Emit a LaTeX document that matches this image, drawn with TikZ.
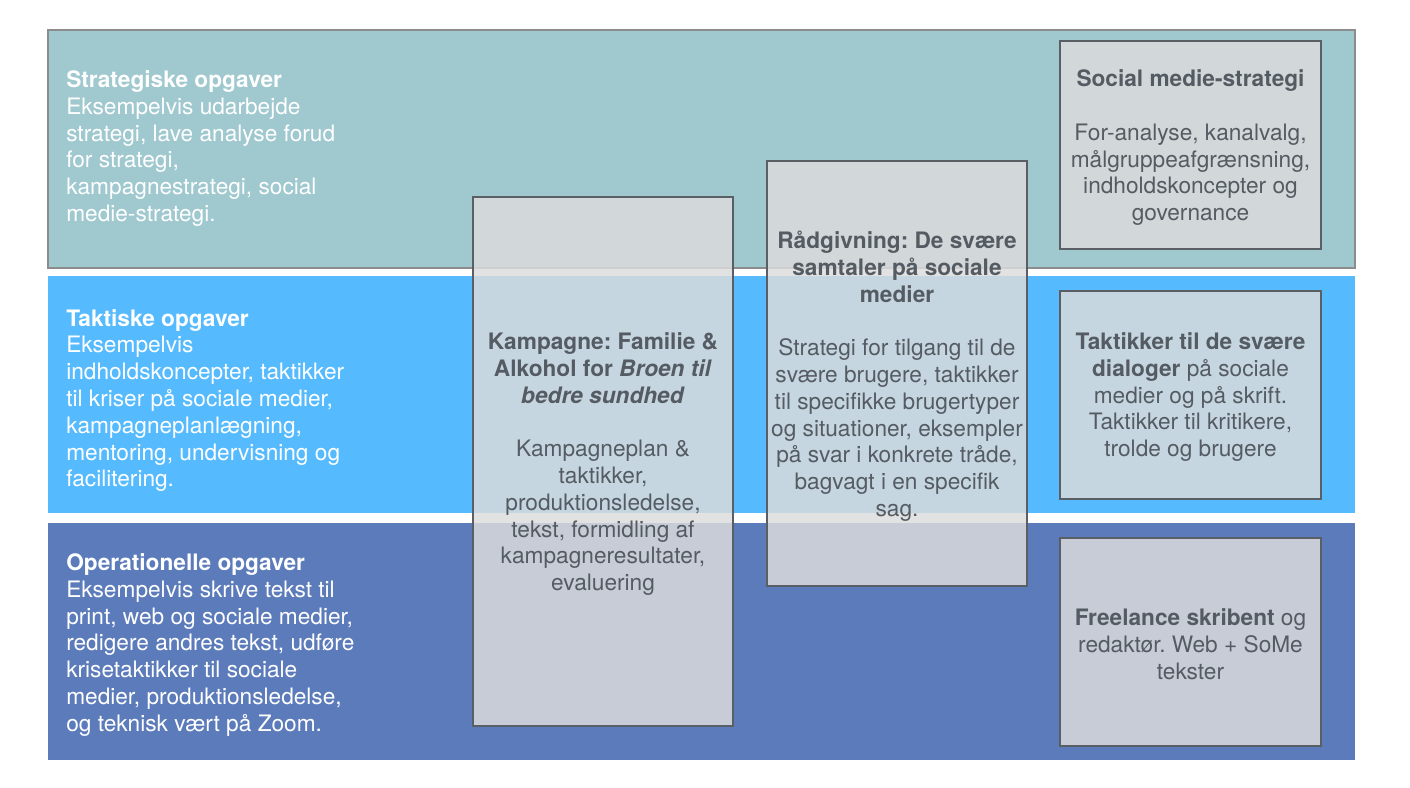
\documentclass[tikz,border=0pt]{standalone}
\usepackage{fontspec}
\setmainfont{TeX Gyre Heros}
\frenchspacing
\definecolor{stratfill}{HTML}{9FC8CF}
\definecolor{taktfill}{HTML}{56BBFE}
\definecolor{operfill}{HTML}{5C7BBA}
\definecolor{bandline}{HTML}{8C8C8C}
\definecolor{boxline}{HTML}{5A5F66}
\definecolor{boxtext}{HTML}{555B62}
\definecolor{boxfill}{HTML}{DCDCDC}
\begin{document}
\begin{tikzpicture}[x=0.75pt,y=-0.75pt,
  band/.style={rectangle, inner sep=0pt, minimum width=980.25pt},
  bandtext/.style={anchor=west, inner sep=0pt, align=left, text=white,
    font=\fontsize{17}{20.1}\selectfont},
  taskbox/.style={rectangle, draw=boxline, line width=1.5pt, fill=boxfill,
    fill opacity=0.84, text opacity=1, inner sep=0pt, minimum width=195pt},
  boxtxt/.style={inner sep=0pt, align=center, text=boxtext,
    font=\fontsize{17}{20.1}\selectfont}]
\useasboundingbox (0,0) rectangle (1410,788);
% bands
\node[band, fill=stratfill, draw=bandline, line width=1.5pt, minimum height=178.5pt] (strat) at (701.5,149) {};
\node[band, fill=taktfill, minimum height=177.75pt] (takt) at (701.5,394.5) {};
\node[band, fill=operfill, minimum height=177.75pt] (oper) at (701.5,641.5) {};
% band texts
\node[bandtext] (strattxt) at (66,148.5) {\textbf{Strategiske opgaver}\\Eksempelvis udarbejde\\strategi, lave analyse forud\\for strategi,\\kampagnestrategi, social\\medie-strategi.};
\node[bandtext] (takttxt) at (66,400.5) {\textbf{Taktiske opgaver}\\Eksempelvis\\indholdskoncepter, taktikker\\til kriser på sociale medier,\\kampagneplanlægning,\\mentoring, undervisning og\\facilitering.};
\node[bandtext] (opertxt) at (66,645) {\textbf{Operationelle opgaver}\\Eksempelvis skrive tekst til\\print, web og sociale medier,\\redigere andres tekst, udføre\\krisetaktikker til sociale\\medier, produktionsledelse,\\og teknisk vært på Zoom.};
% boxes
\node[taskbox, minimum height=396.75pt] (kamp) at (603,461.5) {};
\node[taskbox, minimum height=318.75pt] (raad) at (897,373.5) {};
\node[taskbox, minimum width=195.75pt, minimum height=156pt] (smstrat) at (1190.5,145) {};
\node[taskbox, minimum width=195.75pt, minimum height=156pt] (taktdia) at (1190.5,394.5) {};
\node[taskbox, minimum width=195.75pt, minimum height=156pt] (free) at (1190.5,641.5) {};
% box texts
\node[boxtxt] (kamptxt) at ([yshift=-2pt]kamp.center) {\textbf{Kampagne: Familie \&}\\\textbf{Alkohol for \textit{Broen til}}\\\textbf{\textit{bedre sundhed}}\\[20.1pt]Kampagneplan \&\\taktikker,\\produktionsledelse,\\tekst, formidling af\\kampagneresultater,\\evaluering};
\node[boxtxt] (raadtxt) at ([yshift=-2pt]raad.center) {\textbf{Rådgivning: De svære}\\\textbf{samtaler på sociale}\\\textbf{medier}\\[20.1pt]Strategi for tilgang til de\\svære brugere, taktikker\\til specifikke brugertyper\\og situationer, eksempler\\på svar i konkrete tråde,\\bagvagt i en specifik\\sag.};
\node[boxtxt] (smstrattxt) at ([yshift=-2pt]smstrat.center) {\textbf{Social medie-strategi}\\[20.1pt]For-analyse, kanalvalg,\\målgruppeafgrænsning,\\indholdskoncepter og\\governance};
\node[boxtxt] (taktdiatxt) at ([yshift=-2pt]taktdia.center) {\textbf{Taktikker til de svære}\\\textbf{dialoger} på sociale\\medier og på skrift.\\Taktikker til kritikere,\\trolde og brugere};
\node[boxtxt] (freetxt) at ([yshift=-2pt]free.center) {\textbf{Freelance skribent} og\\redaktør. Web + SoMe\\tekster};
\end{tikzpicture}
\end{document}
